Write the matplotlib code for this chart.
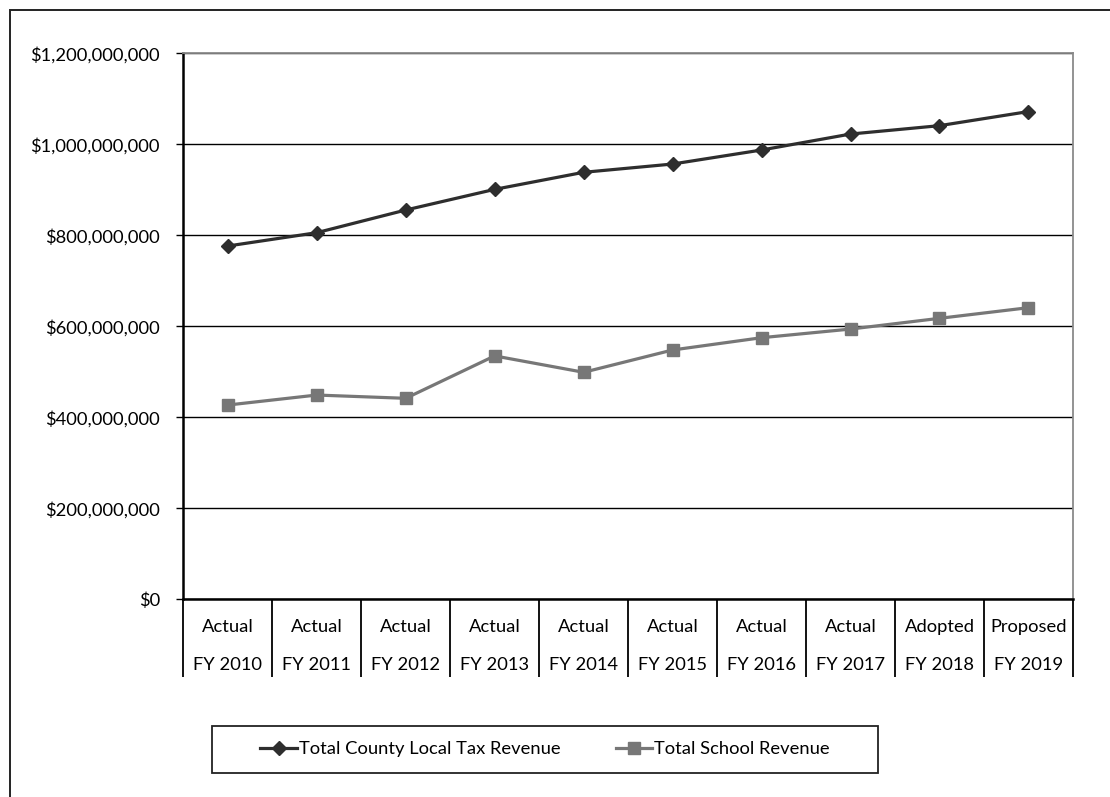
import matplotlib.pyplot as plt
from matplotlib.patches import Rectangle
from matplotlib.ticker import FuncFormatter, MultipleLocator

# budget stage and fiscal year for each column
stages = ['Actual'] * 8 + ['Adopted', 'Proposed']
fiscal_years = ['FY 2010', 'FY 2011', 'FY 2012', 'FY 2013', 'FY 2014',
                'FY 2015', 'FY 2016', 'FY 2017', 'FY 2018', 'FY 2019']

# revenue in dollars
county_tax = [776.5e6, 805.8e6, 855.6e6, 901.0e6, 938.5e6,
              956.7e6, 987.5e6, 1022.6e6, 1041.0e6, 1072.0e6]
school_rev = [427.0e6, 449.0e6, 441.8e6, 535.0e6, 499.0e6,
              548.0e6, 575.0e6, 594.0e6, 617.6e6, 641.0e6]

plt.rcParams['font.family'] = ['Lato', 'DejaVu Sans']
plt.rcParams['font.size'] = 13.2

fig = plt.figure(figsize=(11.1, 7.97), dpi=100)
ax = fig.add_axes([0.1651, 0.2480, 0.8015, 0.6851])

x = list(range(len(fiscal_years)))
ax.plot(x, county_tax, color='#2e2e2e', lw=2.3, marker='D', markersize=7,
        label='Total County Local Tax Revenue', zorder=4)
ax.plot(x, school_rev, color='#777777', lw=2.3, marker='s', markersize=8,
        label='Total School Revenue', zorder=3)

ax.set_xlim(-0.5, len(x) - 0.5)
ax.set_ylim(0, 1.2e9)
ax.yaxis.set_major_locator(MultipleLocator(2e8))
ax.yaxis.set_major_formatter(FuncFormatter(lambda v, p: '${:,.0f}'.format(v)))
ax.yaxis.grid(True, color='black', lw=1)
ax.tick_params(axis='y', length=4.8, width=1, pad=12, colors='black')

# category cells below the axis
ax.set_xticks(x)
ax.set_xticklabels([])
ax.tick_params(axis='x', which='major', length=0)
ax.set_xticks([i - 0.5 for i in range(len(x) + 1)], minor=True)
ax.tick_params(axis='x', which='minor', length=56, width=1.3, color='black')
for i in x:
    ax.text(i, -0.0507, stages[i], transform=ax.get_xaxis_transform(),
            ha='center', va='center')
    ax.text(i, -0.1203, fiscal_years[i], transform=ax.get_xaxis_transform(),
            ha='center', va='center')

for side in ['left', 'bottom']:
    ax.spines[side].set_color('black')
    ax.spines[side].set_linewidth(1.8)
for side in ['top', 'right']:
    ax.spines[side].set_color('#8a8a8a')
    ax.spines[side].set_linewidth(1.3)

fig.legend(loc='center', bbox_to_anchor=(0.491, 0.0596), ncol=2,
           frameon=False, handlelength=2.0, handletextpad=0.1,
           columnspacing=3.0)
fig.patches.append(Rectangle((212 / 1110, 1 - 773 / 797), 666 / 1110, 47 / 797,
                             transform=fig.transFigure, fill=False,
                             edgecolor='#222222', lw=1.3))

# outer border
fig.patches.append(Rectangle((10 / 1110, -0.05), 1.2, 1.05 - 10 / 797,
                             transform=fig.transFigure, fill=False,
                             edgecolor='#222222', lw=1.4))

fig.savefig('out.png', dpi=100)
